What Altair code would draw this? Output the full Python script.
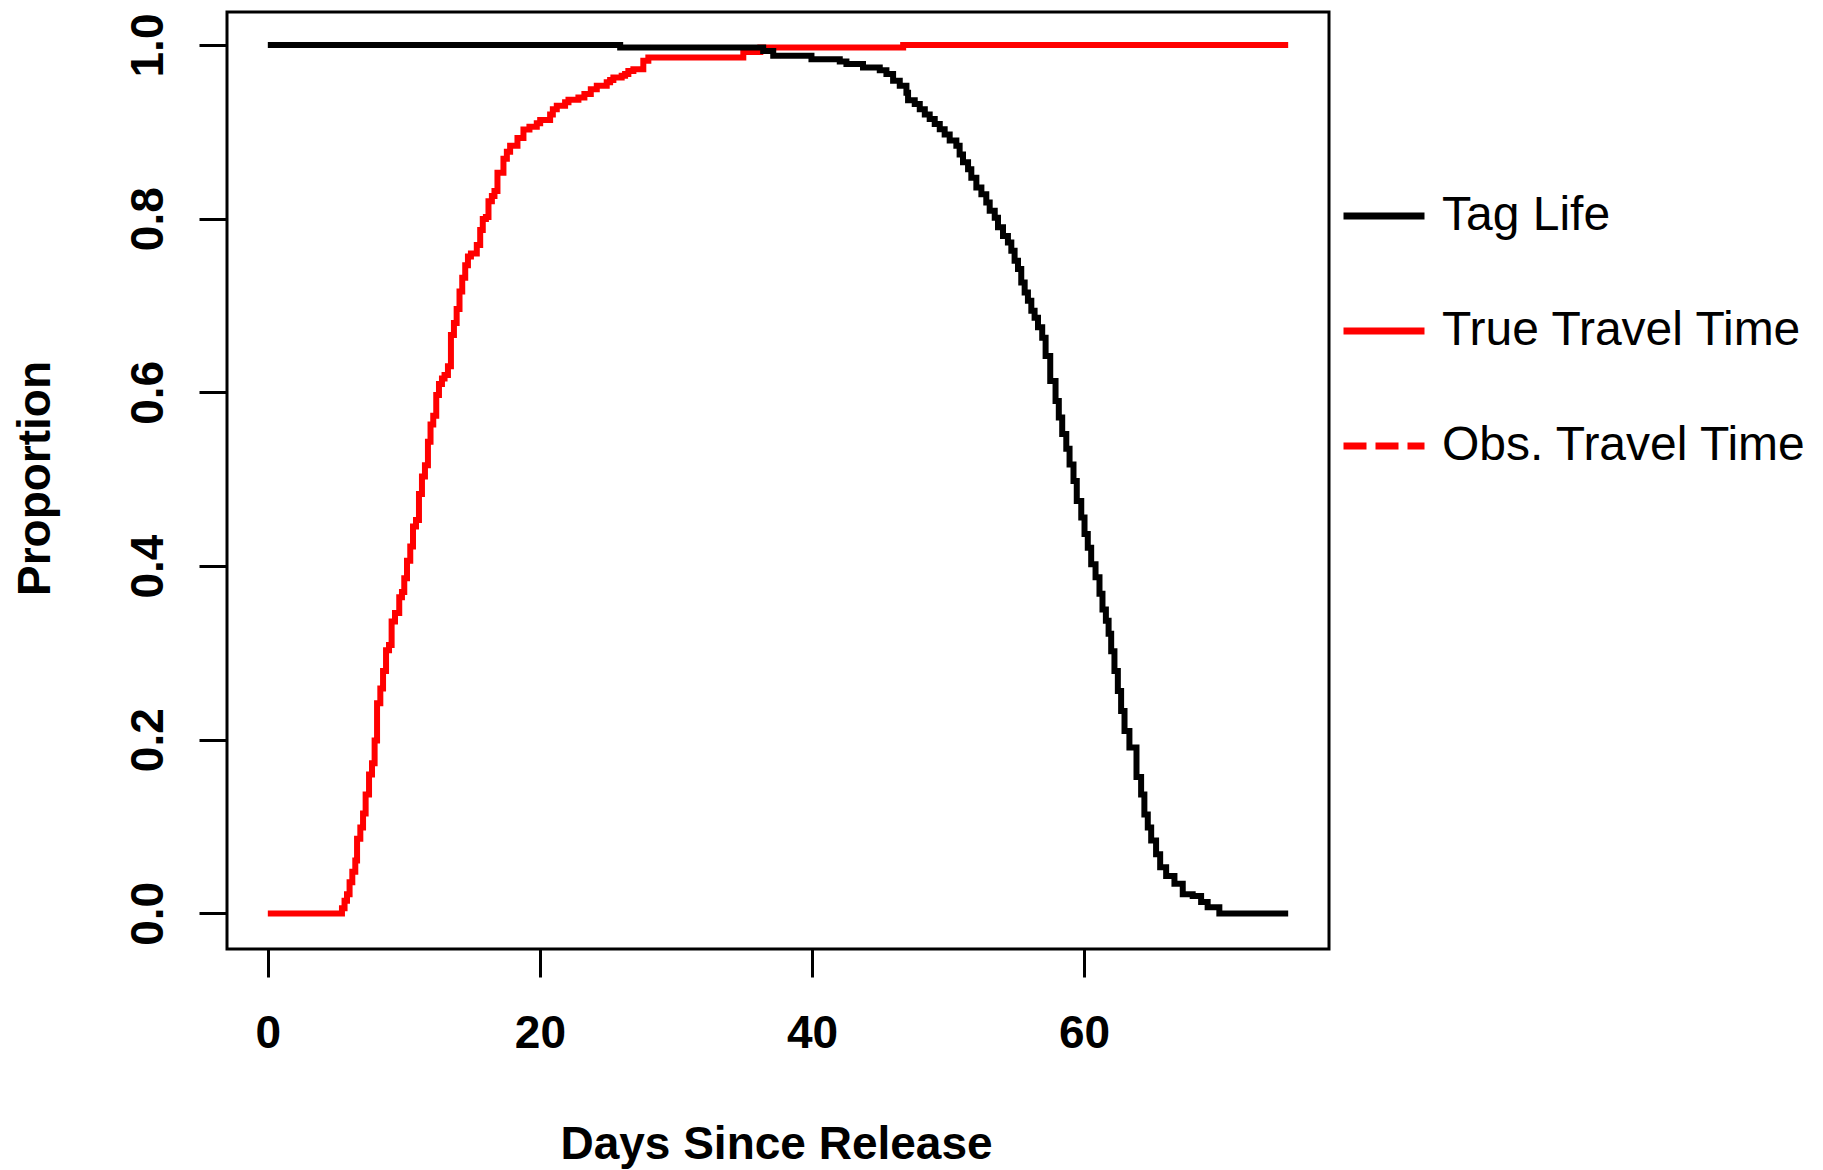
import altair as alt
import pandas as pd

# ---- data ----
series_names = ["Tag Life", "True Travel Time", "Obs. Travel Time"]
series_colors = ["black", "red", "red"]

x_ticks = [0, 20, 40, 60]
y_ticks = [0.0, 0.2, 0.4, 0.6, 0.8, 1.0]

true_tt_day = [0, 5.45, 5.64, 5.82, 6.01, 6.21, 6.43, 6.56, 6.80, 7.00, 7.19, 7.44, 7.66, 7.85, 8.03,
               8.27, 8.47, 8.69, 8.91, 9.10, 9.35, 9.66, 9.86, 10.03, 10.23, 10.47, 10.67, 10.89, 11.11,
               11.33, 11.55, 11.77, 11.96, 12.16, 12.38, 12.58, 12.80, 12.99, 13.24, 13.46, 13.68, 13.88,
               14.09, 14.29, 14.51, 14.71, 14.93, 15.36, 15.61, 15.80, 16.03, 16.22, 16.47, 16.66, 16.88,
               17.32, 17.57, 17.81, 18.35, 18.79, 19.23, 19.77, 20.02, 20.75, 20.95, 21.24, 21.85, 22.10,
               22.83, 23.27, 23.74, 24.18, 24.91, 25.16, 25.40, 26.01, 26.26, 26.50, 26.87, 27.60, 27.97,
               34.95, 36.2, 46.7, 75]
true_tt_val = [0, 0.006, 0.0145, 0.022, 0.036, 0.048, 0.061, 0.086, 0.099, 0.115, 0.137, 0.160, 0.173,
               0.199, 0.242, 0.259, 0.279, 0.303, 0.309, 0.336, 0.346, 0.364, 0.370, 0.386, 0.406, 0.4225,
               0.4455, 0.453, 0.483, 0.503, 0.516, 0.543, 0.563, 0.573, 0.597, 0.6095, 0.616, 0.620, 0.630,
               0.666, 0.680, 0.696, 0.716, 0.732, 0.7465, 0.7565, 0.760, 0.7696, 0.787, 0.7995, 0.802,
               0.820, 0.826, 0.832, 0.853, 0.869, 0.877, 0.884, 0.893, 0.9027, 0.906, 0.910, 0.9135, 0.920,
               0.926, 0.930, 0.934, 0.937, 0.9395, 0.9435, 0.949, 0.953, 0.957, 0.9596, 0.9626, 0.9645,
               0.9665, 0.970, 0.972, 0.982, 0.9856, 0.992, 0.997, 1.0, 1.0]

tag_life_day = [0, 25.9, 36.41, 37.15, 39.96, 42.04, 42.53, 43.75, 44.98, 45.47, 45.96, 46.45, 46.94,
                47.06, 47.55, 47.92, 48.29, 48.65, 49.02, 49.39, 49.75, 50.12, 50.61, 50.85, 51.10, 51.47,
                51.71, 52.08, 52.45, 52.81, 53.06, 53.43, 53.67, 54.04, 54.40, 54.65, 54.89, 55.14, 55.38,
                55.63, 55.87, 56.12, 56.36, 56.61, 56.92, 57.17, 57.51, 57.90, 58.14, 58.39, 58.69, 58.93,
                59.22, 59.46, 59.79, 60.03, 60.27, 60.52, 60.84, 61.13, 61.35, 61.6, 61.80, 61.99, 62.23,
                62.48, 62.72, 62.97, 63.33, 63.85, 64.19, 64.43, 64.68, 64.93, 65.29, 65.59, 66.03, 66.64,
                67.25, 67.98, 68.60, 69.08, 69.94, 75]
tag_life_val = [1.0, 0.997, 0.993, 0.9875, 0.9837, 0.981, 0.978, 0.974, 0.971, 0.9665, 0.9588, 0.953,
                0.945, 0.9365, 0.932, 0.926, 0.920, 0.9147, 0.909, 0.903, 0.897, 0.890, 0.884, 0.874, 0.865,
                0.857, 0.847, 0.836, 0.828, 0.8187, 0.809, 0.801, 0.790, 0.780, 0.7726, 0.763, 0.7515,
                0.742, 0.7265, 0.715, 0.7054, 0.694, 0.686, 0.675, 0.663, 0.642, 0.613, 0.590, 0.571, 0.552,
                0.535, 0.517, 0.498, 0.475, 0.456, 0.437, 0.421, 0.402, 0.387, 0.368, 0.350, 0.337, 0.322,
                0.302, 0.279, 0.256, 0.233, 0.210, 0.191, 0.157, 0.137, 0.114, 0.099, 0.084, 0.068, 0.053,
                0.043, 0.034, 0.022, 0.020, 0.013, 0.007, 0.0, 0.0]

assert len(true_tt_day) == len(true_tt_val)
assert len(tag_life_day) == len(tag_life_val)

df = pd.concat([
    pd.DataFrame({"day": true_tt_day, "prop": true_tt_val, "series": "True Travel Time"}),
    pd.DataFrame({"day": tag_life_day, "prop": tag_life_val, "series": "Tag Life"}),
], ignore_index=True)

FONT = "Liberation Sans"

legend = alt.Legend(
    title=None, orient="none", legendX=1113, legendY=160,
    symbolType="stroke", symbolSize=6561, symbolStrokeWidth=7,
    labelFontSize=48, labelFont=FONT, labelColor="black", labelFontWeight="normal",
    labelOffset=14, rowPadding=47, padding=0, labelLimit=0,
)

color = alt.Color("series:N", scale=alt.Scale(domain=series_names, range=series_colors), legend=legend)
dash = alt.StrokeDash("series:N", scale=alt.Scale(domain=series_names,
                                                   range=[[1, 0], [1, 0], [23, 9]]), legend=legend)

x = alt.X("day:Q", scale=alt.Scale(domain=[-3, 78], nice=False, zero=False),
          axis=alt.Axis(values=x_ticks, title="Days Since Release", grid=False, domain=False,
                        tickSize=28, tickWidth=3, tickColor="black",
                        labelFont=FONT, labelFontSize=46, labelFontWeight="bold", labelColor="black",
                        labelPadding=34, labelFlush=False,
                        titleFont=FONT, titleFontSize=46, titleFontWeight="bold", titleColor="black",
                        titleX=549, titleY=209, titleBaseline="alphabetic", titleAlign="center"))
y = alt.Y("prop:Q", scale=alt.Scale(domain=[-0.041, 1.038], nice=False, zero=False),
          axis=alt.Axis(values=y_ticks, format=".1f", title="Proportion", grid=False, domain=False,
                        tickSize=28, tickWidth=3, tickColor="black",
                        labelFont=FONT, labelFontSize=46, labelFontWeight="bold", labelColor="black",
                        labelAngle=270, labelAlign="center", labelBaseline="bottom", labelPadding=27,
                        labelFlush=False,
                        titleFont=FONT, titleFontSize=46, titleFontWeight="bold", titleColor="black",
                        titleAngle=270, titleX=-178, titleY=466, titleBaseline="alphabetic",
                        titleAlign="center"))

base = alt.Chart(df).mark_line(interpolate="step-after", strokeWidth=6).encode(
    x=x, y=y, color=color, strokeDash=dash)

chart = alt.layer(
    base.transform_filter(alt.datum.series == "True Travel Time"),
    base.transform_filter(alt.datum.series == "Tag Life"),
).properties(
    width=1102, height=937,
    autosize=alt.AutoSizeParams(type="none"),
    padding={"left": 227, "top": 12, "right": 494, "bottom": 221},
    background="white",
).configure_view(stroke="black", strokeWidth=3)

chart.save("out.html", embed_options={"renderer": "svg", "actions": False})
